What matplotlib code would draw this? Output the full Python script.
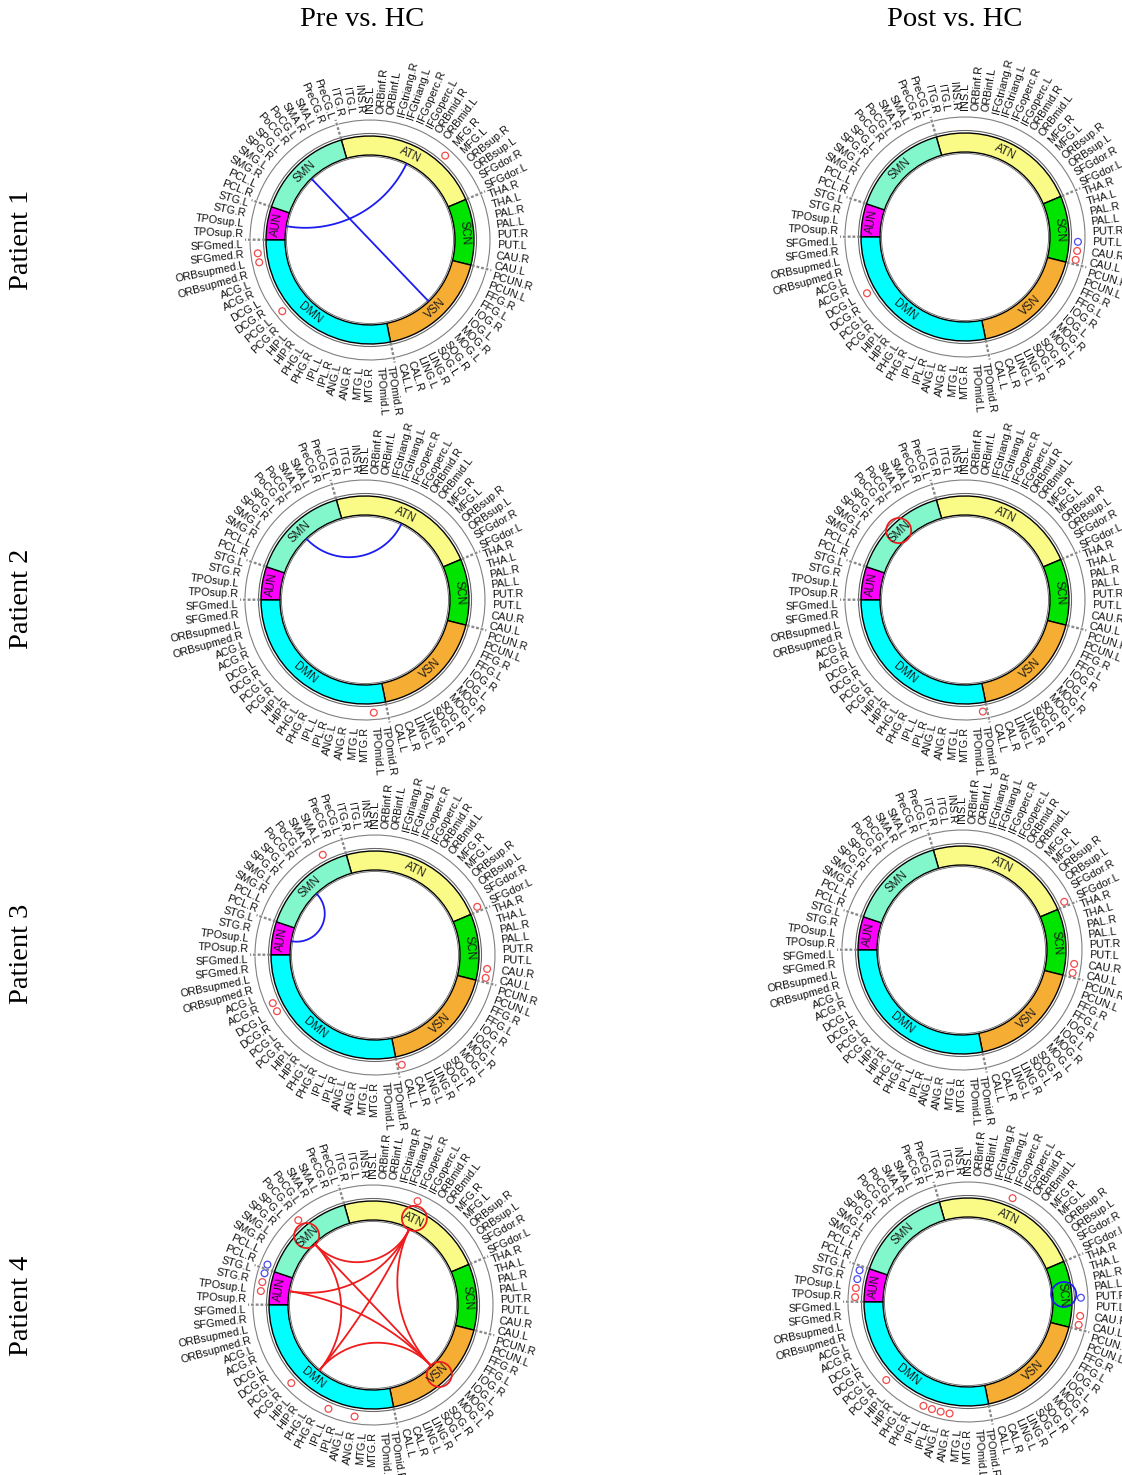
import numpy as np
import matplotlib.pyplot as plt
from matplotlib.patches import Wedge, Circle, Arc

W, H = 1122, 1475

# node labels, clockwise from the top
node_names = [
    'ITG.R', 'ITG.L', 'INS.R', 'INS.L', 'ORBinf.R', 'ORBinf.L', 'IFGtriang.R', 'IFGtriang.L',
    'IFGoperc.R', 'IFGoperc.L', 'ORBmid.R', 'ORBmid.L', 'MFG.R', 'MFG.L', 'ORBsup.R', 'ORBsup.L',
    'SFGdor.R', 'SFGdor.L',
    'THA.R', 'THA.L', 'PAL.R', 'PAL.L', 'PUT.R', 'PUT.L', 'CAU.R', 'CAU.L',
    'PCUN.R', 'PCUN.L', 'FFG.R', 'FFG.L', 'IOG.R', 'IOG.L', 'MOG.R', 'MOG.L', 'SOG.R', 'SOG.L',
    'LING.R', 'LING.L', 'CAL.R', 'CAL.L',
    'TPOmid.R', 'TPOmid.L', 'MTG.R', 'MTG.L', 'ANG.R', 'ANG.L', 'IPL.R', 'IPL.L', 'PHG.R', 'PHG.L',
    'HIP.R', 'HIP.L', 'PCG.R', 'PCG.L', 'DCG.R', 'DCG.L', 'ACG.R', 'ACG.L',
    'ORBsupmed.R', 'ORBsupmed.L', 'SFGmed.R', 'SFGmed.L',
    'TPOsup.R', 'TPOsup.L', 'STG.R', 'STG.L',
    'PCL.R', 'PCL.L', 'SMG.R', 'SMG.L', 'SPG.R', 'SPG.L', 'PoCG.R', 'PoCG.L', 'SMA.R', 'SMA.L',
    'PreCG.R', 'PreCG.L',
]
networks = ['ATN', 'SCN', 'VSN', 'DMN', 'AUN', 'SMN']
net_sizes = [18, 8, 14, 22, 4, 12]
net_colors = ['#fafa86', '#00e400', '#f6ad33', '#00ffff', '#ff00ff', '#82f7cc']

col_titles = ['Pre vs. HC', 'Post vs. HC']
row_titles = ['Patient 1', 'Patient 2', 'Patient 3', 'Patient 4']

# significant network-network edges
p1_pre_edges = [('SMN', 'VSN'), ('AUN', 'ATN')]
p1_post_edges = []
p2_pre_edges = [('SMN', 'ATN')]
p2_post_edges = []
p3_pre_edges = [('SMN', 'AUN')]
p3_post_edges = []
p4_pre_edges = [('SMN', 'ATN'), ('SMN', 'DMN'), ('SMN', 'VSN'), ('ATN', 'DMN'),
                ('ATN', 'VSN'), ('VSN', 'DMN'), ('AUN', 'ATN'), ('AUN', 'VSN')]
p4_post_edges = []
edge_colors = ['blue', 'blue', 'blue', 'blue', 'blue', 'blue', 'red', 'red']

# node-level differences (small circles)
p1_pre_red = ['MFG.R', 'SFGmed.R', 'ORBsupmed.L', 'PCG.L']
p1_pre_blue = []
p1_post_red = ['CAU.R', 'CAU.L', 'DCG.L']
p1_post_blue = ['PUT.L']
p2_pre_red = ['TPOmid.L']
p2_pre_blue = []
p2_post_red = ['TPOmid.R']
p2_post_blue = []
p3_pre_red = ['SMA.L', 'SFGdor.L', 'CAU.R', 'CAU.L', 'DCG.L', 'ACG.R', 'CAL.L']
p3_pre_blue = []
p3_post_red = ['SFGdor.L', 'CAU.R', 'CAU.L']
p3_post_blue = []
p4_pre_red = ['IFGoperc.R', 'PoCG.R', 'STG.R', 'TPOsup.L', 'PCG.R', 'IPL.L', 'ANG.R']
p4_pre_blue = ['PCL.R', 'STG.L']
p4_post_red = ['IFGoperc.R', 'TPOsup.L', 'TPOsup.R', 'PCG.R', 'ANG.R', 'ANG.L', 'IPL.R',
               'IPL.L', 'CAU.R', 'CAU.L']
p4_post_blue = ['STG.L', 'STG.R', 'PUT.R']

# network-level differences (large circles)
p1_pre_nets, p1_post_nets = [], []
p2_pre_nets, p2_post_nets = [], [('SMN', 'red')]
p3_pre_nets, p3_post_nets = [], []
p4_pre_nets = [('SMN', 'red'), ('ATN', 'red'), ('VSN', 'red')]
p4_post_nets = [('SCN', 'blue')]

centers = [(370, 240), (965, 237), (365, 600), (965, 600),
           (375, 955), (962, 950), (373, 1305), (968, 1302)]

START = -16.0
STEP = 360.0 / len(node_names)
R_IN, R_OUT = 85, 104
RED, BLUE = '#ee1c1c', '#1c1cf0'
cmap = {'red': RED, 'blue': BLUE}

bounds = np.concatenate([[0], np.cumsum(net_sizes)])
node_ang = START + (np.arange(len(node_names)) + 0.5) * STEP
net_ang = {n: START + (bounds[i] + bounds[i + 1]) / 2 * STEP for i, n in enumerate(networks)}


def xy(theta, r):
    t = np.deg2rad(90 - theta)
    return r * np.cos(t), r * np.sin(t)


def geodesic(th1, th2, r, n=100):
    t1, t2 = np.deg2rad(90 - th1), np.deg2rad(90 - th2)
    p1 = r * np.array([np.cos(t1), np.sin(t1)])
    p2 = r * np.array([np.cos(t2), np.sin(t2)])
    d = (t2 - t1 + np.pi) % (2 * np.pi) - np.pi
    if abs(abs(d) - np.pi) < 0.05:
        return [p1[0], p2[0]], [p1[1], p2[1]]
    h = abs(d) / 2
    m = t1 + d / 2
    c = r / np.cos(h) * np.array([np.cos(m), np.sin(m)])
    rr = r * np.tan(h)
    a1 = np.arctan2(p1[1] - c[1], p1[0] - c[0])
    a2 = np.arctan2(p2[1] - c[1], p2[0] - c[0])
    da = (a2 - a1 + np.pi) % (2 * np.pi) - np.pi
    a = a1 + np.linspace(0, 1, n) * da
    return c[0] + rr * np.cos(a), c[1] + rr * np.sin(a)


def draw_panel(ax, edges, ecol, red_nodes, blue_nodes, nets):
    # network ring
    for i, n in enumerate(networks):
        a, b = START + bounds[i] * STEP, START + bounds[i + 1] * STEP
        ax.add_patch(Wedge((0, 0), R_OUT, 90 - b, 90 - a, width=R_OUT - R_IN,
                           fc=net_colors[i], ec='black', lw=1.0))
        rot = -net_ang[n]
        while rot <= -90:
            rot += 180
        while rot > 90:
            rot -= 180
        x, y = xy(net_ang[n], (R_IN + R_OUT) / 2)
        ax.text(x, y, n, rotation=rot, ha='center', va='center', fontsize=8.3,
                family='Liberation Sans', color='#1a1a1a', rotation_mode='anchor')
        # outer gray circle segment
        ax.add_patch(Arc((0, 0), 240, 240, theta1=90 - b + 0.8, theta2=90 - a - 0.8,
                         color='#808080', lw=0.8))
        # separator
        xs, ys = zip(xy(a, 105), xy(a, 125))
        ax.plot(xs, ys, color='#8a8a8a', lw=1.7, ls=(0, (1.2, 0.8)), solid_capstyle='butt')
    ax.add_patch(Circle((0, 0), 106.5, fill=False, ec='#666666', lw=0.8))
    ax.add_patch(Circle((0, 0), 83.5, fill=False, ec='#666666', lw=0.6))

    # node labels
    for th, name in zip(node_ang, node_names):
        x, y = xy(th, 127)
        if th % 360 < 180:
            ax.text(x, y, name, rotation=90 - th, ha='left', va='center',
                    rotation_mode='anchor', fontsize=7.8, family='Liberation Sans', color='#111111')
        else:
            ax.text(x, y, name, rotation=270 - th, ha='right', va='center',
                    rotation_mode='anchor', fontsize=7.8, family='Liberation Sans', color='#111111')

    # edges
    for n1, n2 in edges:
        xs, ys = geodesic(net_ang[n1], net_ang[n2], 84)
        ax.plot(xs, ys, color=ecol, lw=1.3)

    # node markers
    for names, col in ((red_nodes, RED), (blue_nodes, BLUE)):
        for name in names:
            th = node_ang[node_names.index(name)]
            ax.add_patch(Circle(xy(th, 113), 3.4, fill=False, ec=col, lw=0.9, alpha=0.8))

    # network markers
    for n, col in nets:
        ax.add_patch(Circle(xy(net_ang[n], 96), 12.5, fill=False, ec=cmap[col], lw=1.3))


panels = [
    (p1_pre_edges, p1_pre_red, p1_pre_blue, p1_pre_nets),
    (p1_post_edges, p1_post_red, p1_post_blue, p1_post_nets),
    (p2_pre_edges, p2_pre_red, p2_pre_blue, p2_pre_nets),
    (p2_post_edges, p2_post_red, p2_post_blue, p2_post_nets),
    (p3_pre_edges, p3_pre_red, p3_pre_blue, p3_pre_nets),
    (p3_post_edges, p3_post_red, p3_post_blue, p3_post_nets),
    (p4_pre_edges, p4_pre_red, p4_pre_blue, p4_pre_nets),
    (p4_post_edges, p4_post_red, p4_post_blue, p4_post_nets),
]

fig = plt.figure(figsize=(W / 100, H / 100), dpi=100)
S = 440
for (cx, cy), (edges, red, blue, nets), ecol in zip(centers, panels, edge_colors):
    ax = fig.add_axes([(cx - S / 2) / W, 1 - (cy + S / 2) / H, S / W, S / H])
    ax.set_xlim(-S / 2, S / 2)
    ax.set_ylim(-S / 2, S / 2)
    ax.axis('off')
    draw_panel(ax, edges, cmap[ecol], red, blue, nets)

for x, t in zip([362, 955], col_titles):
    fig.text(x / W, 1 - 20 / H, t, ha='center', va='center', fontsize=20.5,
             family='Liberation Serif')
for y, t in zip([240, 599, 954, 1306], row_titles):
    fig.text(22 / W, 1 - y / H, t, ha='center', va='center', rotation=90,
             fontsize=20.5, family='Liberation Serif')

fig.savefig('out.png', dpi=100)
